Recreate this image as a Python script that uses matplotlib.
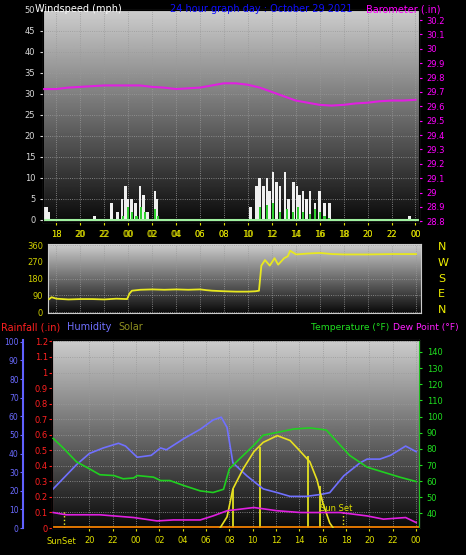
import matplotlib.pyplot as plt
import numpy as np

# ---- data (hours since midnight of the previous day) ----
gust_t = [17.0, 17.2, 17.35, 21.2, 22.6, 23.1, 23.5, 23.8, 24.0, 24.3, 24.6, 25.0, 25.3, 25.6,
          26.25, 26.4, 34.2, 34.7, 35.0, 35.3, 35.6, 35.8, 36.1, 36.4, 36.7, 37.1, 37.4, 37.8,
          38.1, 38.3, 38.6, 38.9, 39.2, 39.6, 40.0, 40.4, 40.8, 47.5]
gust = [3, 3, 2, 1, 4, 2, 5, 8, 5, 5, 4, 8, 6, 2,
        7, 5, 3, 8, 10, 8, 10, 7, 11.5, 9, 8, 11.5, 5, 9,
        8, 6, 7, 5, 7, 4, 7, 4, 4, 1]
avg_t = [23.6, 24.0, 24.3, 24.7, 25.1, 25.4, 26.25, 26.5, 35.0, 35.6, 36.1, 36.7, 37.3, 37.8,
         38.2, 38.6, 39.2, 39.6, 40.0, 40.4, 40.8]
avg = [1, 3, 2, 1, 3, 2, 2.5, 1, 3, 3.5, 4, 2, 2.5, 2,
       3, 2, 1.5, 2.5, 2, 1, 0.5]

baro_t = list(range(17, 49))
baro = [29.72, 29.72, 29.73, 29.735, 29.74, 29.745, 29.745, 29.745, 29.745, 29.735, 29.73,
        29.72, 29.725, 29.73, 29.745, 29.76, 29.76, 29.75, 29.73, 29.70, 29.67, 29.64, 29.625,
        29.61, 29.605, 29.61, 29.62, 29.625, 29.635, 29.64, 29.64, 29.645]

dir_t = [17.4, 17.6, 18, 19, 20, 21, 22, 23, 23.9, 24.1, 24.3, 25, 26, 27, 28, 29, 30, 30.5,
         31, 32, 33, 34, 34.6, 34.9, 35.1, 35.4, 35.8, 36.2, 36.5, 37, 37.3, 37.5, 38, 39,
         40, 41, 42, 44, 46, 48]
wdir = [70, 80, 72, 68, 70, 70, 68, 72, 70, 100, 115, 120, 122, 120, 122, 120, 122, 118,
        115, 112, 110, 110, 112, 115, 250, 280, 250, 290, 255, 290, 300, 330, 310, 315,
        318, 312, 310, 310, 312, 312]

hum_t = [16.9, 18.9, 20.0, 21.2, 22.5, 23.1, 24.1, 25.3, 26.1, 26.6, 28.1, 29.5, 30.6, 31.3,
         31.8, 32.3, 33.5, 34.9, 36.1, 37.2, 38.6, 39.8, 40.6, 41.8, 43.2, 43.8, 44.9, 45.8,
         47.1, 48.0]
hum = [21, 34, 40, 43, 45.5, 44, 38, 39, 43, 42, 48, 53, 58, 59.5,
       54, 35, 28, 21, 19, 17, 17, 18, 19, 28, 35, 37, 37, 39,
       44, 41]

temp_t = [16.9, 17.7, 18.9, 20.0, 20.9, 22.1, 22.9, 23.8, 24.1, 25.5, 26.1, 26.9, 28.1, 29.5,
          30.6, 31.5, 32.0, 32.9, 34.1, 34.9, 36.1, 37.5, 38.9, 40.3, 41.1, 42.3, 43.8, 45.2,
          46.6, 48.0]
temp = [86.5, 81, 72, 67.7, 64, 63.5, 61.5, 62, 63.5, 62.5, 60.4, 60.4, 57.3, 54,
        53, 55, 67.7, 74, 82.3, 88.5, 90.2, 92.3, 93, 91.7, 85.4, 76, 68.7, 65.6,
        62.5, 59.8]

dew_t = [16.9, 18.0, 20.9, 23.8, 25.8, 27.2, 29.5, 30.6, 31.8, 34.1, 36.1, 38.1, 41.5, 43.8,
         45.2, 47.1, 48.0]
dew = [40.6, 39.2, 39.2, 37.5, 35.4, 36, 36, 38.5, 41.7, 43.7, 41.7, 40.6, 40.6, 38.5,
       36.5, 37.5, 34.4]

solar_t = [31.2, 31.8, 32.3, 33.2, 34.1, 34.9, 36.1, 37.2, 38.1, 38.9, 39.5, 40.0, 40.6, 40.9]
solar = [0, 6, 21, 32, 41, 46, 49.6, 47, 41, 35.5, 26, 13.6, 2.7, 0]
solar_bar_t = [32.3, 34.6, 38.7, 39.8]
solar_bar = [21, 43.6, 38.5, 22.7]
sunset_t = [17.8, 41.7]

bg = "black"
fig = plt.figure(figsize=(4.66, 5.55), dpi=100, facecolor=bg)
grad = np.linspace(0, 1, 256).reshape(-1, 1)


def background(ax):
    ax.set_facecolor("black")
    ax.imshow(grad, extent=[0, 1, 0, 1], transform=ax.transAxes, cmap="gray",
              vmin=-0.05, vmax=1.25, aspect="auto", origin="lower", zorder=0)
    ax.grid(True, color="#9a9a9a", linestyle=":", linewidth=0.6, zorder=1)
    for s in ax.spines.values():
        s.set_color("#cccccc")


def hour_labels(hours):
    return ["%02d" % (h % 24) for h in hours]


xt = list(range(18, 49, 2))

# ---- panel 1: wind speed + barometer ----
ax1 = fig.add_axes([0.0923, 0.6, 0.807, 0.382])
background(ax1)
ax1.bar(gust_t, gust, width=0.22, color="#f0f0f0", zorder=3)
ax1.bar(avg_t, avg, width=0.18, color="#30d030", zorder=4)
ax1.axhline(0, color="#a0f0a0", linewidth=1.5, zorder=4)
ax1.set_xlim(16.9, 48.3)
ax1.set_ylim(-0.5, 50)
ax1.set_yticks(range(0, 51, 5))
ax1.set_xticks(xt)
ax1.set_xticklabels(hour_labels(xt))
ax1.tick_params(axis="y", colors="#d8d8d8", labelsize=6, length=2)
ax1.tick_params(axis="x", colors="#e0e000", labelsize=6, length=2)
axb = ax1.twinx()
axb.plot(baro_t, baro, color="#e020e0", linewidth=1.5, zorder=5)
axb.set_ylim(28.795, 30.27)
bt = np.round(np.arange(28.8, 30.21, 0.1), 1)
axb.set_yticks(bt)
axb.set_yticklabels(["%g" % v for v in bt])
axb.tick_params(axis="y", colors="#ff00ff", labelsize=6, length=2)
fig.text(0.075, 0.992, "Windspeed (mph)", color="white", fontsize=7, va="top")
fig.text(0.56, 0.992, "24 hour graph day : October 29 2021", color="#1010ff", fontsize=7,
         va="top", ha="center")
fig.text(0.945, 0.992, "Barometer (.in)", color="#ff00ff", fontsize=7, va="top", ha="right")

# ---- panel 2: wind direction ----
ax2 = fig.add_axes([0.103, 0.436, 0.8, 0.124])
background(ax2)
ax2.plot(dir_t, wdir, color="#e8e820", linewidth=1.3, zorder=3)
ax2.set_xlim(17.3, 48.4)
ax2.set_ylim(-5, 365)
ax2.set_yticks([0, 90, 180, 270, 360])
ax2.set_xticks(xt)
ax2.set_xticklabels(hour_labels(xt))
ax2.xaxis.tick_top()
ax2.tick_params(axis="both", colors="#d0d000", labelsize=6, length=0)
for i, c in enumerate("NWSEN"):
    fig.text(0.94, 0.555 - i * 0.0285, c, color="#f0f000", fontsize=8, va="center")

# ---- panel 3: rain / humidity / solar / temperature / dew point ----
ax3 = fig.add_axes([0.1116, 0.0486, 0.7876, 0.339])
background(ax3)
ax3.set_xlim(16.8, 48.25)
ax3.set_ylim(0, 1.21)
rt = np.round(np.arange(0, 1.21, 0.1), 1)
ax3.set_yticks(rt)
ax3.set_yticklabels(["%g" % v for v in rt])
ax3.tick_params(axis="y", colors="#ff2020", labelsize=6, length=2, pad=1)
ax3.spines["left"].set_color("#ff4040")
ax3.axhline(0.003, color="#ff1010", linewidth=2, zorder=6)
xt3 = list(range(20, 49, 2))
ax3.set_xticks(xt3)
ax3.set_xticklabels(hour_labels(xt3))
ax3.tick_params(axis="x", colors="#e0e000", labelsize=6, length=2)
ax3.text(17.6, -0.06, "SunSet", color="#e0e000", fontsize=6, ha="center", va="top")

axh = ax3.twinx()
axh.spines["left"].set_visible(True)
axh.spines["left"].set_position(("outward", 21))
axh.spines["left"].set_color("#6060ff")
axh.spines["left"].set_linewidth(1.5)
axh.spines["right"].set_visible(False)
axh.yaxis.set_ticks_position("left")
axh.yaxis.set_label_position("left")
axh.set_ylim(0, 101)
axh.set_yticks(range(0, 101, 10))
axh.tick_params(axis="y", colors="#6a6aff", labelsize=5.5, length=2, pad=1)
axh.plot(hum_t, hum, color="#7070ff", linewidth=1.2, zorder=3)
axh.plot(solar_t, solar, color="#e8e020", linewidth=1.2, zorder=3)
axh.vlines(solar_bar_t, 0, solar_bar, color="#f0f020", linewidth=1.2)
axh.vlines(sunset_t, 0, 9, color="#f0f020", linewidth=1, linestyles=":")
axh.axhline(0.8, color="#ff9000", linewidth=1.2)
axh.text(39.8, 9, "Sun Set", color="#e0e000", fontsize=6)

axt = ax3.twinx()
axt.set_ylim(31, 147.5)
axt.set_yticks(range(40, 141, 10))
axt.tick_params(axis="y", colors="#20e020", labelsize=6, length=2)
axt.spines["right"].set_color("#20c020")
axt.plot(temp_t, temp, color="#20d020", linewidth=1.2, zorder=4)
axt.plot(dew_t, dew, color="#e020e0", linewidth=1.2, zorder=4)

fig.text(0.002, 0.41, "Rainfall (.in)", color="#ff2020", fontsize=7, va="center")
fig.text(0.143, 0.41, "Humidity", color="#7070ff", fontsize=7, va="center")
fig.text(0.253, 0.41, "Solar", color="#909020", fontsize=7, va="center")
fig.text(0.668, 0.41, "Temperature (°F)", color="#20e020", fontsize=6.6, va="center")
fig.text(0.843, 0.41, "Dew Point (°F)", color="#ff20ff", fontsize=6.6, va="center")

fig.savefig("out.png", dpi=100, facecolor=bg)
